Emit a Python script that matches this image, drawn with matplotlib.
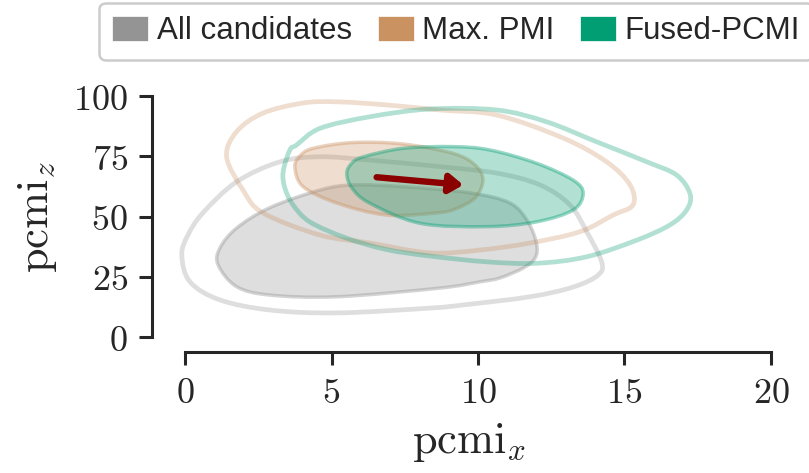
import matplotlib
matplotlib.use("Agg")
import matplotlib.pyplot as plt
from matplotlib.path import Path
from matplotlib.patches import PathPatch, Patch
import numpy as np

plt.rcParams["mathtext.fontset"] = "cm"

# ---- data: density contour outlines (pcmi_x, pcmi_z) per candidate set ----
groups = ["All candidates", "Max. PMI", "Fused-PCMI"]
colors = ["#949494", "#ca9161", "#029e73"]

# All candidates
all_outer_x = [-0.11, 0.10, 0.61, 1.76, 3.24, 4.61, 6.31, 8.70, 10.64, 12.12, 13.14,
               13.71, 14.22, 14.10, 13.24, 11.77, 9.49, 8.36, 5.18, 2.90, 1.19, 0.17]
all_outer_y = [34.0, 42.3, 51.5, 64.4, 72.7, 74.8, 73.4, 70.7, 68.0, 63.1, 54.8,
               43.7, 31.2, 25.7, 20.7, 16.7, 13.3, 12.0, 10.0, 11.2, 15.4, 22.9]
all_inner_x = [1.13, 1.19, 1.76, 2.90, 4.61, 5.73, 7.44, 9.73, 11.09, 11.71, 12.00,
               11.95, 11.54, 10.75, 10.07, 8.70, 5.18, 2.90, 1.76]
all_inner_y = [29.9, 36.9, 45.2, 53.7, 61.0, 63.1, 62.4, 59.8, 55.6, 47.7, 38.6,
               32.8, 28.6, 24.5, 22.9, 20.3, 16.7, 17.4, 20.9]

# Max. PMI
pmi_outer_x = [1.42, 1.76, 2.66, 4.03, 5.18, 6.88, 8.70, 10.64, 12.90, 14.39, 15.19,
               15.29, 14.61, 13.48, 11.77, 10.07, 8.36, 6.31, 4.61, 2.66, 1.98]
pmi_outer_y = [74.7, 85.2, 92.9, 97.1, 97.6, 96.3, 94.2, 92.1, 82.6, 72.7, 63.1,
               54.8, 50.6, 43.7, 39.0, 36.1, 34.9, 39.0, 42.3, 51.5, 61.0]
pmi_inner_x = [3.75, 3.92, 4.37, 5.73, 7.44, 9.15, 9.90, 10.17, 9.90, 9.22, 8.59,
               6.88, 5.18, 4.03]
pmi_inner_y = [70.5, 75.1, 78.3, 80.7, 80.1, 76.2, 71.4, 65.1, 57.7, 53.1, 51.5,
               50.6, 55.6, 62.4]

# Fused-PCMI
fused_outer_x = [3.35, 3.58, 3.81, 4.61, 6.31, 8.36, 10.64, 12.34, 14.05, 15.76, 16.78,
                 17.24, 17.12, 16.55, 15.42, 13.71, 12.00, 10.30, 8.36, 6.88, 5.52,
                 4.27, 3.69, 3.41]
fused_outer_y = [68.6, 77.6, 79.7, 86.6, 91.4, 94.6, 94.2, 89.3, 81.0, 72.7, 67.2,
                 59.3, 52.7, 46.5, 40.2, 33.3, 30.6, 31.2, 33.6, 36.3, 41.0,
                 47.7, 54.8, 61.8]
fused_inner_x = [5.52, 5.70, 6.09, 7.44, 9.15, 10.41, 12.00, 13.25, 13.59, 13.25, 12.00,
                 10.30, 8.02, 6.31, 5.70]
fused_inner_y = [67.9, 72.2, 74.8, 78.3, 79.0, 77.6, 72.1, 65.1, 59.6, 52.7, 47.8,
                 45.8, 47.2, 55.5, 61.8]

# shift of the centre from Max. PMI to Fused-PCMI
shift_start = (6.54, 66.3)
shift_end = (9.50, 63.1)

xticks = [0, 5, 10, 15, 20]
yticks = [0, 25, 50, 75, 100]


def closed_smooth_path(xs, ys):
    """Closed Catmull-Rom curve through the given outline points as a cubic Bezier path."""
    p = np.column_stack([xs, ys]).astype(float)
    n = len(p)
    verts = [p[0]]
    codes = [Path.MOVETO]
    for i in range(n):
        p0, p1, p2, p3 = p[(i - 1) % n], p[i], p[(i + 1) % n], p[(i + 2) % n]
        c1 = p1 + (p2 - p0) / 6.0
        c2 = p2 - (p3 - p1) / 6.0
        verts += [c1, c2, p2]
        codes += [Path.CURVE4] * 3
    return Path(verts, codes)


fig = plt.figure(figsize=(8.09, 4.73), dpi=100)
ax = fig.add_axes([0.2066, 0.2875, 0.9530 - 0.2066, 0.797 - 0.2875])

outlines = [
    (all_outer_x, all_outer_y, all_inner_x, all_inner_y),
    (pmi_outer_x, pmi_outer_y, pmi_inner_x, pmi_inner_y),
    (fused_outer_x, fused_outer_y, fused_inner_x, fused_inner_y),
]

for (ox, oy, ix, iy), col in zip(outlines, colors):
    ax.add_patch(PathPatch(closed_smooth_path(ox, oy), facecolor="none",
                           edgecolor=col, lw=3.4, alpha=0.3, zorder=2))
    ax.add_patch(PathPatch(closed_smooth_path(ix, iy), facecolor=col,
                           edgecolor="none", alpha=0.3, zorder=2))
    ax.add_patch(PathPatch(closed_smooth_path(ix, iy), facecolor="none",
                           edgecolor=col, lw=2.5, alpha=0.4, zorder=2))

ax.annotate("", xy=shift_end, xytext=shift_start,
            arrowprops=dict(arrowstyle="-|>,head_length=0.8,head_width=0.55",
                            color="#8b0000", lw=4.6, shrinkA=0, shrinkB=0,
                            capstyle="round", joinstyle="round"),
            zorder=5)

ax.set_xlim(-0.61, 20)
ax.set_ylim(0, 100)
ax.set_xticks(xticks)
ax.set_yticks(yticks)
ax.set_xticklabels([f"${t}$" for t in xticks])
ax.set_yticklabels([f"${t}$" for t in yticks])

ink = "#262626"
for side in ["top", "right"]:
    ax.spines[side].set_visible(False)
for side in ["left", "bottom"]:
    ax.spines[side].set_position(("outward", 10.8))
    ax.spines[side].set_linewidth(2.2)
    ax.spines[side].set_color(ink)
ax.spines["bottom"].set_bounds(0, 20)
ax.spines["left"].set_bounds(0, 100)
ax.tick_params(axis="both", length=9.4, width=2.2, color=ink, labelcolor=ink,
               labelsize=26, pad=8)

ax.set_xlabel(r"$\mathrm{pcmi}_x$", fontsize=32, color=ink, labelpad=8)
ax.set_ylabel(r"$\mathrm{pcmi}_z$", fontsize=32, color=ink, labelpad=10)

handles = [Patch(facecolor=c, edgecolor="white", linewidth=0.5, label=g)
           for g, c in zip(groups, colors)]
leg = fig.legend(handles=handles, loc="upper center",
                 bbox_to_anchor=(456 / 809, 1 - 3 / 473), ncol=3,
                 prop={"family": "Liberation Sans", "size": 22.5},
                 frameon=True, fancybox=True, framealpha=1,
                 handlelength=1.15, handleheight=0.85, handletextpad=0.27,
                 columnspacing=0.82, borderpad=0.42, borderaxespad=0)
leg.get_frame().set_edgecolor("0.8")
leg.get_frame().set_linewidth(1.8)
for t in leg.get_texts():
    t.set_color(ink)

fig.savefig("out.png", dpi=100)
